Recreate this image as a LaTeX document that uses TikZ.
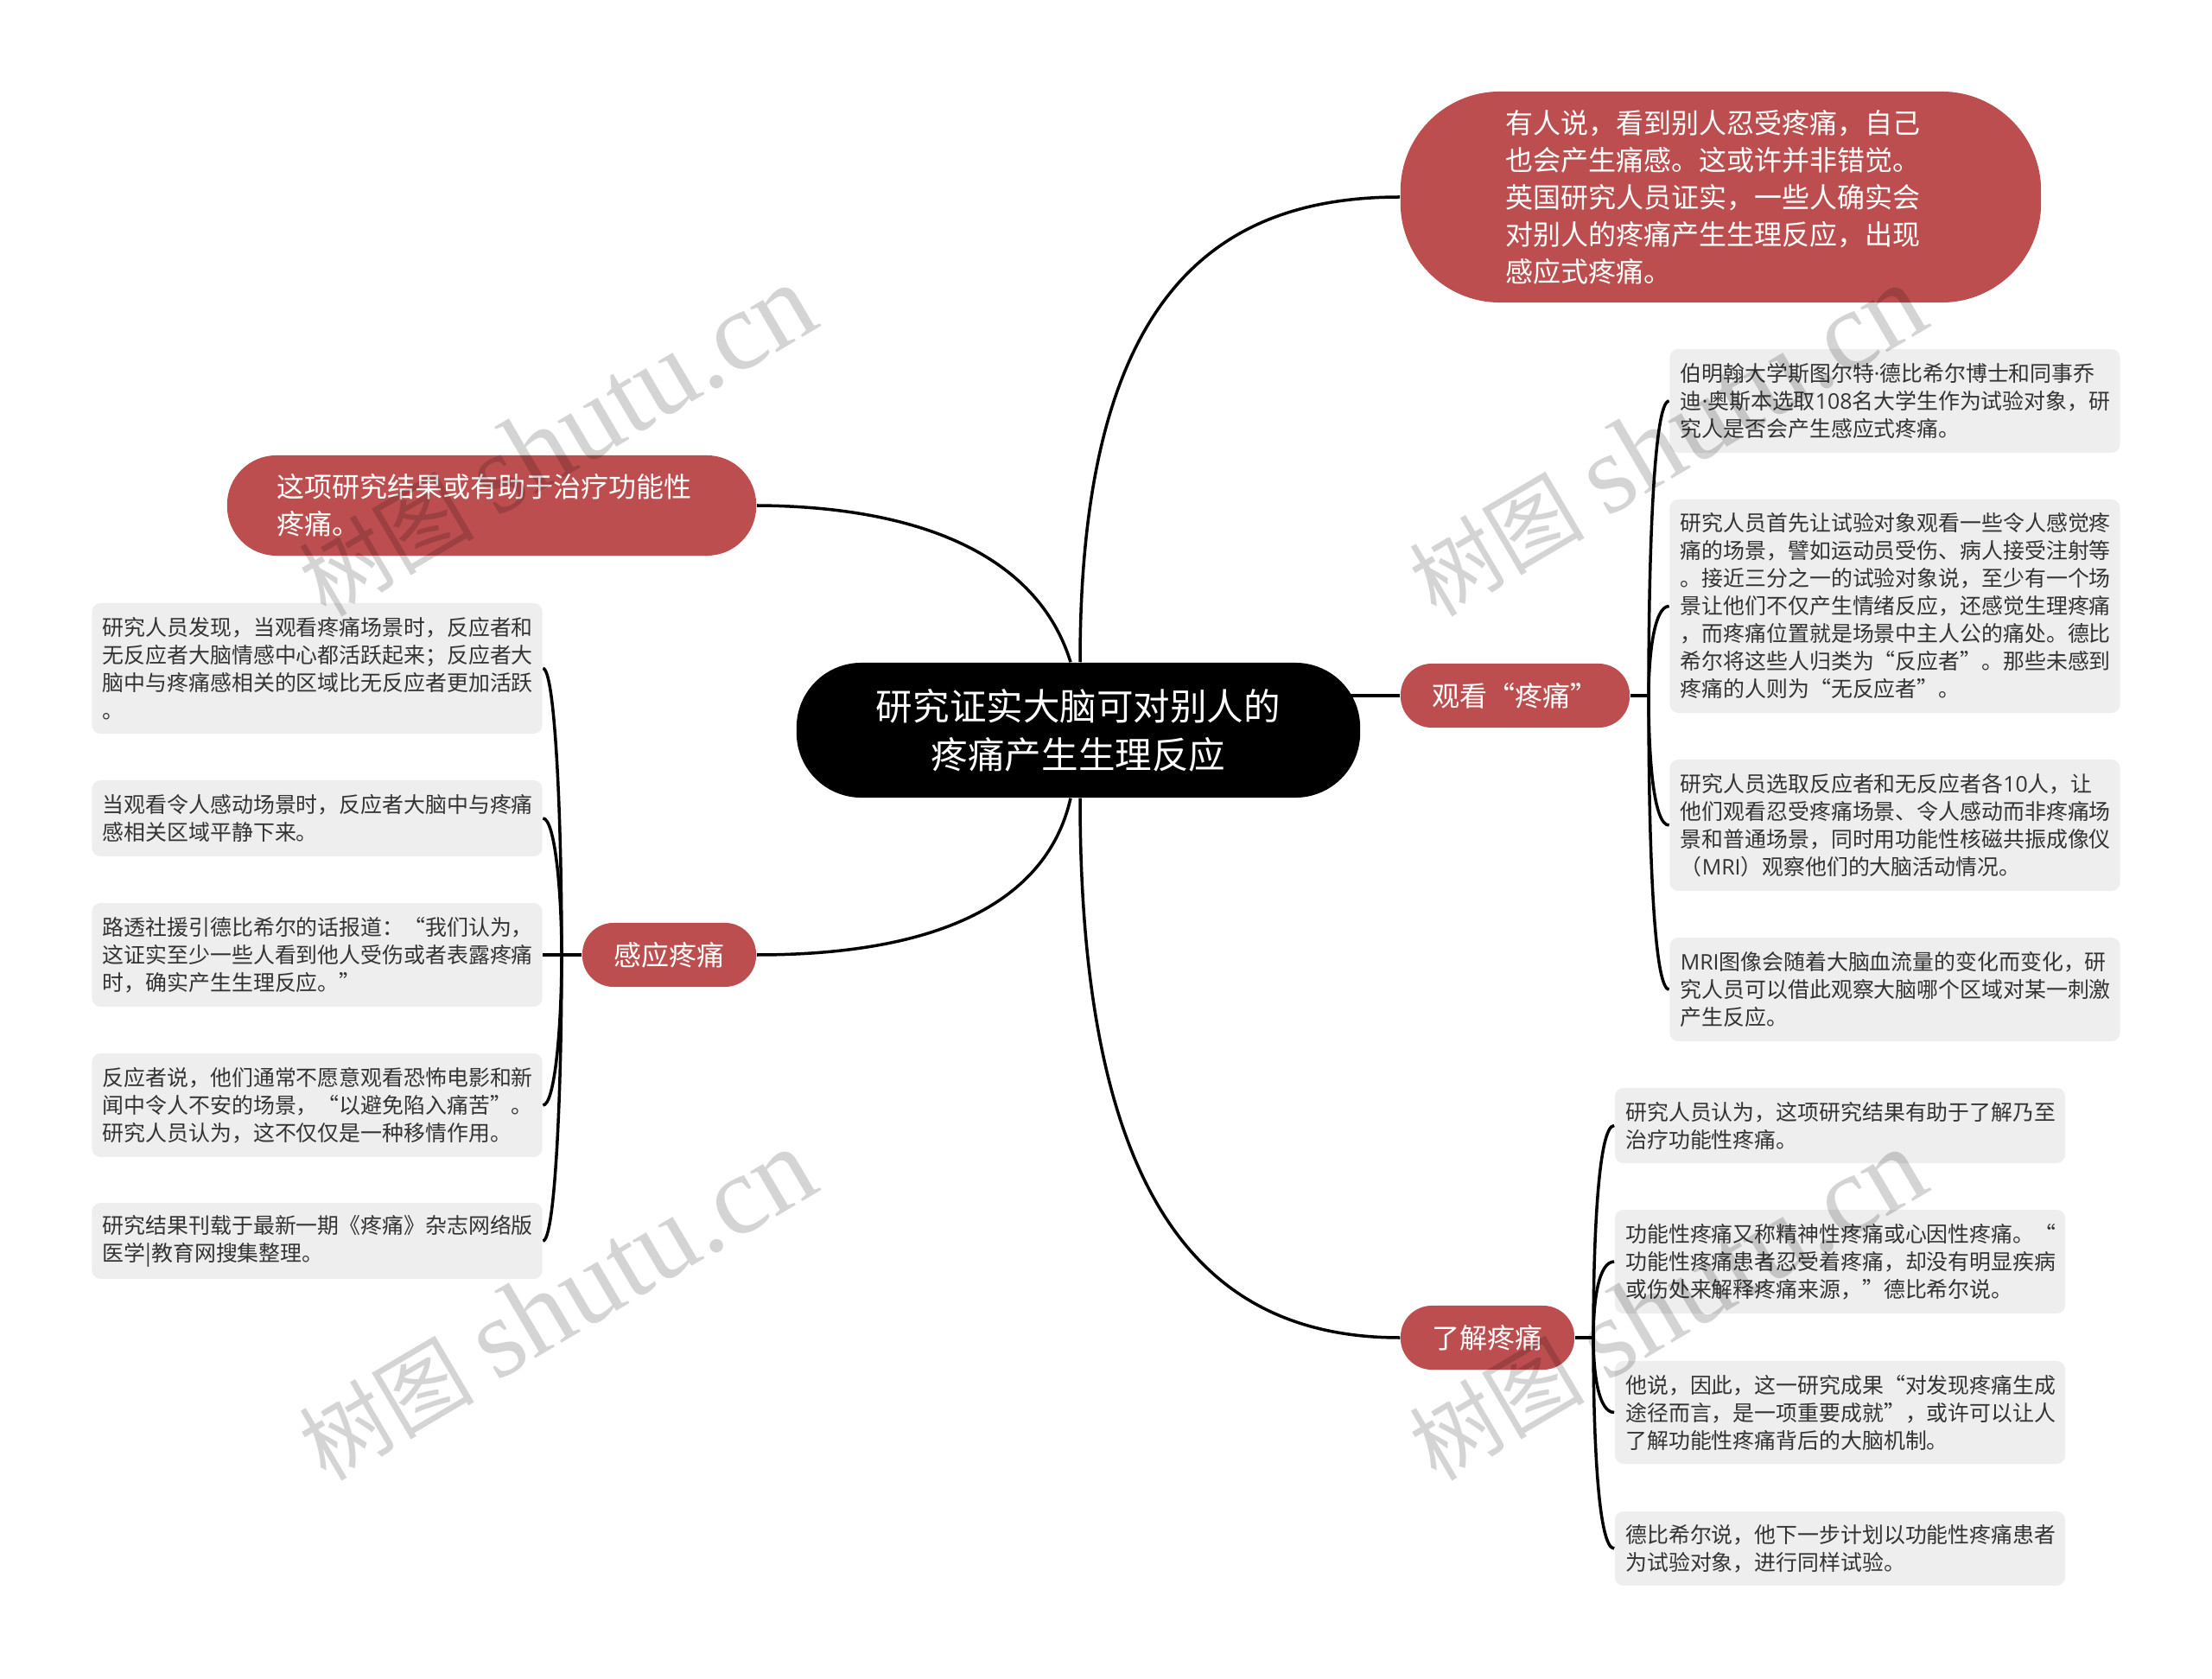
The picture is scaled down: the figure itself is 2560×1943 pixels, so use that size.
\documentclass[tikz,border=0pt]{standalone}
\usepackage{fontspec}
\setmainfont{Noto Sans CJK SC}
\newfontfamily\wmlatin{Liberation Serif}
\newfontfamily\wmcjk{Noto Sans CJK SC}
\newfontfamily\latf{Open Sans}
\newcommand\wmtext{{\fontsize{29pt}{34pt}\selectfont\wmcjk 树图}\hspace{7pt}{\fontsize{37.2pt}{37pt}\selectfont\wmlatin shutu.cn}}
\definecolor{pillred}{HTML}{BC4E4F}
\definecolor{leafgray}{HTML}{EEEEEE}
\definecolor{leaftext}{HTML}{333333}
\pgfdeclarelayer{bg}
\pgfsetlayers{bg,main}
\tikzset{
  leafbox/.style={fill=leafgray,text=leaftext,rounded corners=0.1cm,inner xsep=0.125cm,inner ysep=0pt,
    minimum width=5.21cm,text width=4.96cm,align=left,font=\fontsize{7.08pt}{9.1pt}\selectfont,
    execute at end node={\par\vskip-0.03cm}},
  pill/.style={fill=pillred,text=white,inner sep=0pt,font=\fontsize{9.1pt}{12.23pt}\selectfont},
  rootbox/.style={fill=black,text=white,inner sep=0pt,align=center,rounded corners=0.75cm,
    minimum width=6.52cm,minimum height=1.56cm,font=\fontsize{12.1pt}{15.93pt}\selectfont},
  conn/.style={draw=black,line width=0.035cm},
  wm/.style={rotate=30.5,text=black,opacity=0.17,inner sep=0pt}
}
\begin{document}
\begin{tikzpicture}[x=0.01cm,y=-0.01cm]
\useasboundingbox (0,0) rectangle (2560,1943);
\node[rootbox] (root) at (1248,845) {研究证实大脑可对别人的\\疼痛产生生理反应};
\node[pill,rounded corners=1.15cm,minimum width=7.41cm,minimum height=2.44cm,text width=4.97cm,inner xsep=1.22cm,align=left] (a) at (1991.5,228) {有人说，看到别人忍受疼痛，自己\\也会产生痛感。这或许并非错觉。\\英国研究人员证实，一些人确实会\\对别人的疼痛产生生理反应，出现\\感应式疼痛。};
\node[pill,rounded corners=0.57cm,minimum width=6.12cm,minimum height=1.16cm,text width=4.96cm,inner xsep=0.58cm,align=left,execute at end node={\par\vskip-0.03cm}] (d) at (569,585) {这项研究结果或有助于治疗功能性\\疼痛。};
\node[pill,rounded corners=0.36cm,minimum width=2.65cm,minimum height=0.74cm] (gk) at (1753.5,805) {观看“疼痛”};
\node[pill,rounded corners=0.36cm,minimum width=2.01cm,minimum height=0.74cm] (lj) at (1721.5,1548) {了解疼痛};
\node[pill,rounded corners=0.36cm,minimum width=2.01cm,minimum height=0.74cm] (gy) at (774.5,1105) {感应疼痛};
\node[leafbox,minimum height=1.20cm] (b1) at (2193,464) {伯明翰大学斯图尔特{\latf ·}德比希尔博士和同事乔\\迪{\latf ·}奥斯本选取{\latf 108}名大学生作为试验对象，研\\究人是否会产生感应式疼痛。};
\node[leafbox,minimum height=2.47cm] (b2) at (2193,701.5) {研究人员首先让试验对象观看一些令人感觉疼\\痛的场景，譬如运动员受伤、病人接受注射等\\。接近三分之一的试验对象说，至少有一个场\\景让他们不仅产生情绪反应，还感觉生理疼痛\\，而疼痛位置就是场景中主人公的痛处。德比\\希尔将这些人归类为“反应者”。那些未感到\\疼痛的人则为“无反应者”。};
\node[leafbox,minimum height=1.52cm] (b3) at (2193,955) {研究人员选取反应者和无反应者各{\latf 10}人，让\\他们观看忍受疼痛场景、令人感动而非疼痛场\\景和普通场景，同时用功能性核磁共振成像仪\\（{\latf MRI}）观察他们的大脑活动情况。};
\node[leafbox,minimum height=1.20cm] (b4) at (2193,1145) {{\latf MRI}图像会随着大脑血流量的变化而变化，研\\究人员可以借此观察大脑哪个区域对某一刺激\\产生反应。};
\node[leafbox,minimum height=0.87cm] (c1) at (2129.5,1302.5) {研究人员认为，这项研究结果有助于了解乃至\\治疗功能性疼痛。};
\node[leafbox,minimum height=1.20cm] (c2) at (2129.5,1460) {功能性疼痛又称精神性疼痛或心因性疼痛。“\\功能性疼痛患者忍受着疼痛，却没有明显疾病\\或伤处来解释疼痛来源，”德比希尔说。};
\node[leafbox,minimum height=1.19cm] (c3) at (2129.5,1634.5) {他说，因此，这一研究成果“对发现疼痛生成\\途径而言，是一项重要成就”，或许可以让人\\了解功能性疼痛背后的大脑机制。};
\node[leafbox,minimum height=0.86cm] (c4) at (2129.5,1792) {德比希尔说，他下一步计划以功能性疼痛患者\\为试验对象，进行同样试验。};
\node[leafbox,minimum height=1.51cm] (l1) at (367,773.5) {研究人员发现，当观看疼痛场景时，反应者和\\无反应者大脑情感中心都活跃起来；反应者大\\脑中与疼痛感相关的区域比无反应者更加活跃\\。};
\node[leafbox,minimum height=0.88cm] (l2) at (367,947) {当观看令人感动场景时，反应者大脑中与疼痛\\感相关区域平静下来。};
\node[leafbox,minimum height=1.20cm] (l3) at (367,1105) {路透社援引德比希尔的话报道：“我们认为，\\这证实至少一些人看到他人受伤或者表露疼痛\\时，确实产生生理反应。”};
\node[leafbox,minimum height=1.20cm] (l4) at (367,1279) {反应者说，他们通常不愿意观看恐怖电影和新\\闻中令人不安的场景，“以避免陷入痛苦”。\\研究人员认为，这不仅仅是一种移情作用。};
\node[leafbox,minimum height=0.88cm] (l5) at (367,1436) {研究结果刊载于最新一期《疼痛》杂志网络版\\医学|教育网搜集整理。};

\coordinate (rt1) at ([xshift=0.02cm]root.north);
\coordinate (rt2) at ([xshift=-0.09cm]root.north);
\coordinate (rb1) at ([xshift=0.02cm]root.south);
\coordinate (rb2) at ([xshift=-0.09cm]root.south);
\coordinate (tgk) at (1908,805);
\coordinate (tlj) at (1844,1548);
\coordinate (tgy) at (650,1105);
\begin{pgfonlayer}{bg}
\draw[conn] (rt1) .. controls (1250,350) and (1400,228) .. (a.west);
\draw[conn] (rt2) .. controls (1200,640) and (1060,586) .. (d.east);
\draw[conn] (root.center |- gk.west) -- (gk.west);
\draw[conn] (rb1) .. controls (1250,1400) and (1400,1548) .. (lj.west);
\draw[conn] (rb2) .. controls (1215,1030) and (1110,1105) .. (gy.east);
\draw[conn] (gk.east) -- (tgk);
\draw[conn] (tgk) .. controls (1908,640) and (1914,464) .. (b1.west);
\draw[conn] (tgk) .. controls (1908,760) and (1914,701.5) .. (b2.west);
\draw[conn] (tgk) .. controls (1908,880) and (1914,955) .. (b3.west);
\draw[conn] (tgk) .. controls (1908,980) and (1914,1145) .. (b4.west);
\draw[conn] (lj.east) -- (tlj);
\draw[conn] (tlj) .. controls (1844,1430) and (1850,1302.5) .. (c1.west);
\draw[conn] (tlj) .. controls (1844,1505) and (1850,1460) .. (c2.west);
\draw[conn] (tlj) .. controls (1844,1590) and (1850,1634.5) .. (c3.west);
\draw[conn] (tlj) .. controls (1844,1670) and (1850,1792) .. (c4.west);
\draw[conn] (gy.west) -- (l3.east);
\draw[conn] (tgy) .. controls (650,940) and (642,773.5) .. (l1.east);
\draw[conn] (tgy) .. controls (650,1030) and (642,947) .. (l2.east);
\draw[conn] (tgy) .. controls (650,1190) and (642,1279) .. (l4.east);
\draw[conn] (tgy) .. controls (650,1270) and (642,1436) .. (l5.east);
\end{pgfonlayer}

\node[wm] (w1) at (644,510) {\wmtext};
\node[wm] (w2) at (1929,510) {\wmtext};
\node[wm] (w3) at (644,1510) {\wmtext};
\node[wm] (w4) at (1929,1510) {\wmtext};
\end{tikzpicture}
\end{document}
